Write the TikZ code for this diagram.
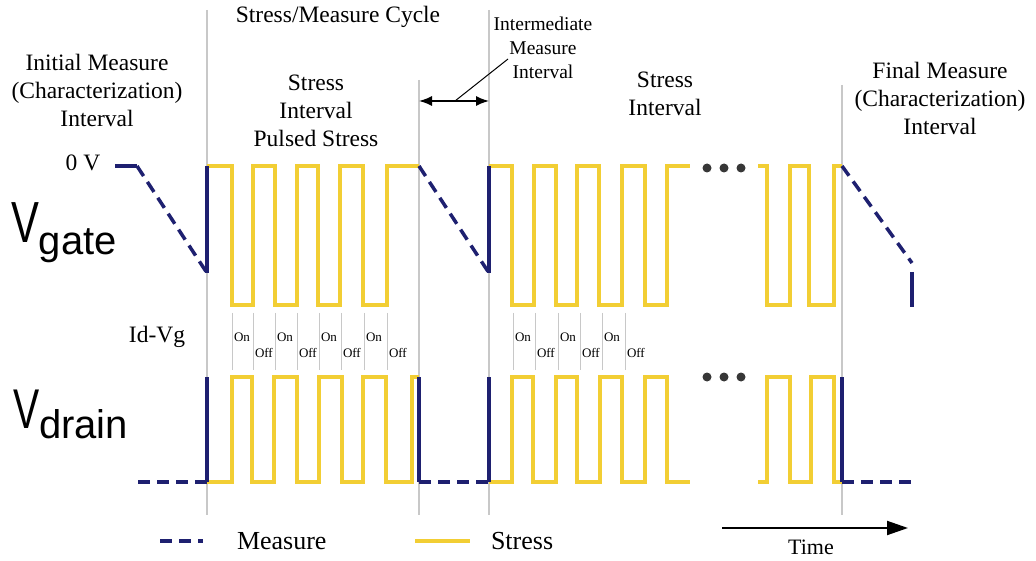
\documentclass[tikz,border=0pt]{standalone}
\usepackage{fontspec}
\setmainfont{Liberation Serif}
\newfontfamily\sffont{Liberation Sans}
\usetikzlibrary{arrows.meta, positioning}
\definecolor{stressyellow}{RGB}{242,206,52}
\definecolor{measblue}{RGB}{30,32,112}
\definecolor{guidegray}{RGB}{200,200,200}
\definecolor{dotgray}{RGB}{55,55,55}

\begin{document}
\begin{tikzpicture}[x=1pt, y=-1pt,
            node distance = 10pt and 10pt,
            every node/.style = {inner sep=0pt, outer sep=0pt, align=center},
            lbl/.style = {font=\fontsize{23.5}{28}\selectfont},
            small/.style = {font=\fontsize{19.5}{24}\selectfont},
            legtext/.style = {font=\fontsize{26}{26}\selectfont},
            onoff/.style = {font=\fontsize{13}{13}\selectfont, anchor=west},
            big/.style = {font=\sffont, anchor=base west},
            stressline/.style = {stressyellow, line width=4pt},
            measline/.style = {measblue, line width=3.5pt, dash pattern=on 12pt off 7pt},
            meassolid/.style = {measblue, line width=3.5pt},
            guide/.style = {guidegray, line width=1.5pt},
            tickline/.style = {guidegray, line width=1pt},
            dot/.style = {circle, fill=dotgray, minimum size=9pt}
                                 ]
            \useasboundingbox (0,0) rectangle (1036,561);
            % guide lines
            \draw [guide] (207,10) -- (207,515)
                          (419,80) -- (419,515)
                          (489,10) -- (489,515)
                          (842,85) -- (842,515);
            \foreach \x in {232,253,275,297,319,341,364,387,513,535,558,580,602,625}
                \draw [tickline] (\x,313) -- (\x,370);
            %
            \node [lbl] (CYCLE) at (338,17) {Stress/Measure Cycle};
            \node [lbl] (INIT)  at (97,90)  {Initial Measure\\(Characterization)\\Interval};
            \node [lbl] (STR1)  at (316,111) {Stress\\Interval\\Pulsed Stress};
            \node [lbl] (STR2)  at (665,94) {Stress\\Interval};
            \node [lbl] (FINAL) at (940,98) {Final Measure\\(Characterization)\\Interval};
            \node [small] (INTER) at (543,48) {Intermediate\\Measure\\Interval};
            \node [lbl] (ZERO)  at (83,163) {0 V};
            \node [lbl] (IDVG)  at (157,337) {Id-Vg};
            \node [big] (VG) at (11,243) {\fontsize{58}{58}\selectfont\scalebox{0.72}[1]{V}\raisebox{-12pt}{\fontsize{40}{40}\selectfont gate}};
            \node [big] (VD) at (13,428) {\fontsize{56}{56}\selectfont\scalebox{0.7}[1]{V}\raisebox{-10pt}{\fontsize{40}{40}\selectfont drain}};
            %
            \foreach \x in {232,275,319,364,513,558,602}
                \node [onoff] (ON\x) at (\x+2,337) {On};
            \foreach \x in {253,297,341,387,535,580,625}
                \node [onoff] (OFF\x) at (\x+2,353) {Off};
            %
            \coordinate (IA) at (419,101);
            \coordinate (IB) at (489,101);
            \coordinate (IL) at (455,101);
            \coordinate (ILE) at (508,59);
            \draw [line width=1.5pt, {Latex[length=13pt,width=10pt]}-{Latex[length=13pt,width=10pt]}] (IA) -- (IB);
            \draw [line width=1pt] (IL) -- (ILE);
            % gate
            \draw [meassolid] (115,166) -- (137,166);
            \draw [measline] (137,166) -- (207,273);
            \draw [stressline] (207,166) -- (232,166) -- (232,305) -- (253,305) -- (253,166) -- (275,166)
                -- (275,305) -- (297,305) -- (297,166) -- (318,166) -- (318,305) -- (340,305) -- (340,166)
                -- (363,166) -- (363,305) -- (387,305) -- (387,166) -- (419,166);
            \draw [meassolid] (207,273) -- (207,166);
            \draw [measline] (419,166) -- (489,273);
            \draw [stressline] (489,166) -- (512,166) -- (512,305) -- (534,305) -- (534,166) -- (556,166)
                -- (556,305) -- (577,305) -- (577,166) -- (599,166) -- (599,305) -- (622,305) -- (622,166)
                -- (645,166) -- (645,305) -- (667,305) -- (667,166) -- (690,166);
            \draw [meassolid] (489,273) -- (489,166);
            \draw [stressline] (758,166) -- (767,166) -- (767,305) -- (790,305) -- (790,166) -- (809,166)
                -- (809,305) -- (834,305) -- (834,166) -- (842,166);
            \draw [measline] (842,166) -- (912,263);
            \draw [meassolid] (912,272) -- (912,307);
            % drain
            \draw [measline] (138,482) -- (207,482);
            \draw [stressline] (207,482) -- (232,482) -- (232,377) -- (252,377) -- (252,482) -- (274,482)
                -- (274,377) -- (297,377) -- (297,482) -- (319,482) -- (319,377) -- (342,377) -- (342,482)
                -- (363,482) -- (363,377) -- (386,377) -- (386,482) -- (412,482) -- (412,377) -- (419,377);
            \draw [meassolid] (207,482) -- (207,377);
            \draw [meassolid] (419,377) -- (419,482);
            \draw [measline] (419,482) -- (489,482);
            \draw [stressline] (489,482) -- (512,482) -- (512,377) -- (533,377) -- (533,482) -- (556,482)
                -- (556,377) -- (577,377) -- (577,482) -- (600,482) -- (600,377) -- (622,377) -- (622,482)
                -- (645,482) -- (645,377) -- (667,377) -- (667,482) -- (690,482);
            \draw [meassolid] (489,482) -- (489,377);
            \draw [stressline] (758,482) -- (767,482) -- (767,377) -- (790,377) -- (790,482) -- (811,482)
                -- (811,377) -- (834,377) -- (834,482) -- (842,482);
            \draw [meassolid] (842,377) -- (842,482);
            \draw [measline] (842,482) -- (912,482);
            %
            \node [dot] (DG1) at (707,168) {};
            \node [dot] (DG2) at (724,168) {};
            \node [dot] (DG3) at (741,168) {};
            \node [dot] (DD1) at (707,377) {};
            \node [dot] (DD2) at (724,377) {};
            \node [dot] (DD3) at (741,377) {};
            % legend
            \coordinate (LM1) at (160,541);
            \coordinate (LM2) at (203,541);
            \draw [measline] (LM1) -- (LM2);
            \node (LEGM) [legtext, right = 34pt of LM2] {Measure};
            \coordinate (LS1) at (415,541);
            \coordinate (LS2) at (470,541);
            \draw [stressline] (LS1) -- (LS2);
            \node (LEGS) [legtext, right = 21pt of LS2] {Stress};
            \coordinate (T1) at (722,528);
            \coordinate (T2) at (908,528);
            \draw [line width=2pt, -{Triangle[length=21pt,width=14pt]}] (T1) -- (T2);
            \node [font=\fontsize{22}{22}\selectfont] (TIME) at (811,547) {Time};
    \end{tikzpicture}
\end{document}
